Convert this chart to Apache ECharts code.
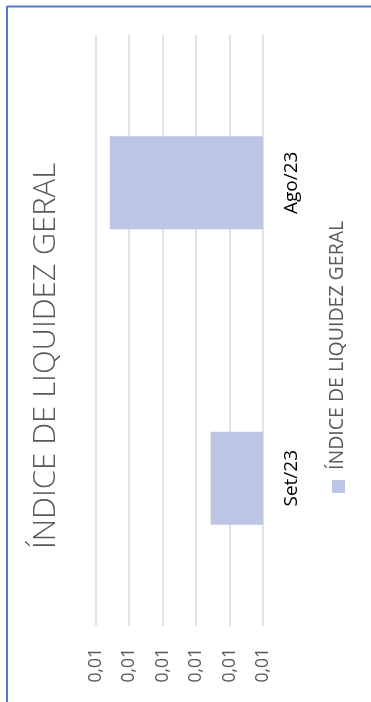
<!DOCTYPE html>
<html>
<head>
<meta charset="utf-8">
<script src="https://cdn.jsdelivr.net/npm/echarts@6/dist/echarts.min.js"></script>
<style>
  html, body { margin: 0; padding: 0; background: #fff; }
  #chart { width: 371px; height: 702px; }
</style>
</head>
<body>
<div id="chart"></div>
<script>
// Liquidity index per month, drawn as a column chart turned on its side
const categories = ['Ago/23', 'Set/23'];
const seriesName = 'ÍNDICE DE LIQUIDEZ GERAL';
const values = [0.010916, 0.010313];
const axisMin = 0.0100;
const axisMax = 0.0110;
const axisStep = 0.0002;

const barColor = '#bcc5e3';
const fontFamily = '"Open Sans", Lato, sans-serif';

const chart = echarts.init(document.getElementById('chart'), null, { renderer: 'canvas' });

chart.setOption({
  animation: false,
  backgroundColor: '#ffffff',
  grid: { left: 95.7, right: 108, top: 35, bottom: 76, containLabel: false },
  xAxis: {
    type: 'value',
    inverse: true,
    position: 'bottom',
    min: axisMin,
    max: axisMax,
    interval: axisStep,
    axisLine: { show: false },
    axisTick: { show: false },
    splitLine: { show: true, lineStyle: { color: '#d9d9d9', width: 1.5 } },
    axisLabel: {
      rotate: 90,
      margin: 22,
      fontSize: 17.5,
      color: '#595959',
      fontFamily: fontFamily,
      formatter: v => v.toFixed(2).replace('.', ',')
    }
  },
  yAxis: {
    type: 'category',
    position: 'right',
    inverse: true,
    data: categories,
    axisLine: { show: false },
    axisTick: { show: false },
    axisLabel: {
      rotate: 90,
      margin: 19,
      fontSize: 19,
      color: '#000000',
      fontFamily: fontFamily
    }
  },
  series: [{
    name: seriesName,
    type: 'bar',
    data: values,
    barCategoryGap: '68.5%',
    itemStyle: { color: barColor }
  }],
  graphic: [
    // chart frame edges
    { type: 'line', shape: { x1: 7, y1: 6.5, x2: 371, y2: 6.5 }, style: { stroke: '#4f7ec8', lineWidth: 2 }, z: 10 },
    { type: 'line', shape: { x1: 7, y1: 6, x2: 7, y2: 702 }, style: { stroke: '#4f7ec8', lineWidth: 2 }, z: 10 },
    // title, reading bottom to top
    {
      type: 'text',
      x: 46, y: 356,
      rotation: Math.PI / 2,
      style: {
        text: seriesName,
        fill: '#595959',
        font: '300 31px ' + fontFamily,
        align: 'center',
        verticalAlign: 'middle'
      }
    },
    // legend marker and label
    {
      type: 'rect',
      shape: { x: 332, y: 480, width: 13, height: 13 },
      style: { fill: barColor }
    },
    {
      type: 'text',
      x: 337, y: 470,
      rotation: Math.PI / 2,
      style: {
        text: seriesName,
        fill: '#595959',
        font: '19.5px ' + fontFamily,
        align: 'left',
        verticalAlign: 'middle'
      }
    }
  ]
});
</script>
</body>
</html>
